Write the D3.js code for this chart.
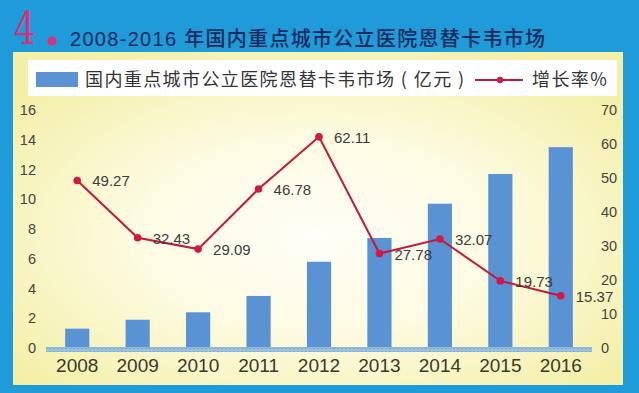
<!DOCTYPE html>
<html>
<head>
<meta charset="utf-8">
<script src="https://cdn.jsdelivr.net/npm/d3@7"></script>
<style>
  body { margin: 0; background: #1e9bd8; }
  svg { display: block; }
</style>
</head>
<body>
<div class="graph"></div>
<script>
// Data
const years = ["2008", "2009", "2010", "2011", "2012", "2013", "2014", "2015", "2016"];
const market = [1.3, 1.9, 2.4, 3.5, 5.8, 7.4, 9.7, 11.7, 13.5];   // 亿元
const growth = [49.27, 32.43, 29.09, 46.78, 62.11, 27.78, 32.07, 19.73, 15.37]; // %
const leftTicks = [0, 2, 4, 6, 8, 10, 12, 14, 16];
const rightTicks = [0, 10, 20, 30, 40, 50, 60, 70];

const titleText = "2008-2016 年国内重点城市公立医院恩替卡韦市场";
const barName = "国内重点城市公立医院恩替卡韦市场 ( 亿元 )";
const lineName = "增长率%";

const W = 639, H = 393;
const font = "Arial, 'Liberation Sans', 'Noto Sans CJK SC', sans-serif";
const cjk = "'Noto Sans CJK SC', 'Noto Sans', sans-serif";

var svg = d3.select(".graph").append("svg")
  .attr("width", W).attr("height", H);

var defs = svg.append("defs");

// Yellow-to-white glow of the panel
var grad = defs.append("radialGradient")
  .attr("id", "glow")
  .attr("cx", "50%").attr("cy", "55%").attr("r", "65%");
grad.append("stop").attr("offset", "0%").attr("stop-color", "#fffef8");
grad.append("stop").attr("offset", "45%").attr("stop-color", "#fdfbe2");
grad.append("stop").attr("offset", "100%").attr("stop-color", "#f3efa6");

// Dotted strip along the base line
var pat = defs.append("pattern")
  .attr("id", "dots")
  .attr("patternUnits", "userSpaceOnUse")
  .attr("width", 4).attr("height", 5);
pat.append("rect").attr("width", 4).attr("height", 5).attr("fill", "#9cc3df");
pat.append("circle").attr("cx", 2).attr("cy", 2.5).attr("r", 1.3)
  .attr("fill", "none").attr("stroke", "#6f9fcc").attr("stroke-width", 0.7);

// Background
svg.append("rect").attr("width", W).attr("height", H).attr("fill", "#1e9bd8");
svg.append("rect")
  .attr("x", 13).attr("y", 52).attr("width", 610).attr("height", 333)
  .attr("fill", "url(#glow)");
svg.append("rect")
  .attr("x", 28).attr("y", 60).attr("width", 589).attr("height", 36)
  .attr("fill", "#ffffff");

// Title
svg.append("text")
  .attr("x", 14).attr("y", 44)
  .attr("font-family", "'DejaVu Serif', serif")
  .attr("font-size", 44)
  .attr("fill", "#d8327a")
  .attr("transform", "translate(14,44) scale(0.78,1) translate(-14,-44)")
  .text("4");
svg.append("circle").attr("cx", 52).attr("cy", 41).attr("r", 4.5).attr("fill", "#d8327a");
svg.append("text")
  .attr("x", 70).attr("y", 46)
  .attr("font-family", font)
  .attr("font-size", 20)
  .attr("font-weight", 500)
  .attr("letter-spacing", 1.3)
  .attr("fill", "#1b2a5c")
  .text(titleText);

// Scales
var x = d3.scaleBand()
  .domain(years)
  .range([47, 591])
  .paddingInner(0.6)
  .paddingOuter(0.3);

var yL = d3.scaleLinear().domain([0, 16]).range([348, 110]);
var yR = d3.scaleLinear().domain([0, 70]).range([348, 110]);

// Left axis
svg.append("g")
  .attr("transform", "translate(36,0)")
  .call(d3.axisLeft(yL).tickValues(leftTicks).tickSize(0).tickPadding(0))
  .call(g => g.select(".domain").remove())
  .selectAll("text")
    .attr("font-family", font).attr("font-size", 14.5).attr("fill", "#444");

// Right axis
svg.append("g")
  .attr("transform", "translate(601,0)")
  .call(d3.axisRight(yR).tickValues(rightTicks).tickSize(0).tickPadding(0))
  .call(g => g.select(".domain").remove())
  .selectAll("text")
    .attr("font-family", font).attr("font-size", 14.5).attr("fill", "#444");

// Bars
svg.selectAll(".bar")
  .data(years)
  .enter()
  .append("rect")
    .attr("class", "bar")
    .attr("x", d => x(d))
    .attr("y", (d, i) => yL(market[i]))
    .attr("width", x.bandwidth())
    .attr("height", (d, i) => yL(0) - yL(market[i]))
    .attr("fill", "#5a93d3");

// Base strip
svg.append("rect")
  .attr("x", 46).attr("y", yL(0) - 1)
  .attr("width", 546).attr("height", 5)
  .attr("fill", "url(#dots)");

// Bottom axis (year labels)
svg.append("g")
  .attr("transform", "translate(0,358)")
  .call(d3.axisBottom(x).tickSize(0).tickPadding(0))
  .call(g => g.select(".domain").remove())
  .selectAll("text")
    .attr("font-family", font).attr("font-size", 19).attr("fill", "#3a3a2a")
    .attr("dy", "0.75em");

// Growth line
var cx = d => x(d) + x.bandwidth() / 2;
var line = d3.line()
  .x((d, i) => cx(years[i]))
  .y(d => yR(d));

svg.append("path")
  .datum(growth)
  .attr("d", line)
  .attr("fill", "none")
  .attr("stroke", "#c4173d")
  .attr("stroke-width", 2);

svg.selectAll(".pt")
  .data(growth)
  .enter()
  .append("circle")
    .attr("class", "pt")
    .attr("cx", (d, i) => cx(years[i]))
    .attr("cy", d => yR(d))
    .attr("r", 3.8)
    .attr("fill", "#d01a44");

svg.selectAll(".lbl")
  .data(growth)
  .enter()
  .append("text")
    .attr("class", "lbl")
    .attr("x", (d, i) => cx(years[i]) + 15)
    .attr("y", d => yR(d))
    .attr("dy", "0.4em")
    .attr("font-family", font)
    .attr("font-size", 15)
    .attr("fill", "#3c3c3c")
    .text(d => d.toFixed(2));

// Legend
svg.append("rect")
  .attr("x", 36).attr("y", 72).attr("width", 42).attr("height", 15)
  .attr("fill", "#5a93d3");
svg.append("text")
  .attr("x", 85).attr("y", 80).attr("dy", "0.36em")
  .attr("font-family", cjk).attr("font-size", 18)
  .attr("letter-spacing", 1.4)
  .attr("fill", "#333")
  .text(barName);
svg.append("line")
  .attr("x1", 475).attr("x2", 523).attr("y1", 80).attr("y2", 80)
  .attr("stroke", "#c4173d").attr("stroke-width", 2);
svg.append("circle").attr("cx", 500).attr("cy", 80).attr("r", 3.2).attr("fill", "#d01a44");
svg.append("text")
  .attr("x", 532).attr("y", 80).attr("dy", "0.36em")
  .attr("font-family", cjk).attr("font-size", 18)
  .attr("letter-spacing", 1.4)
  .attr("fill", "#333")
  .text(lineName);
</script>
</body>
</html>
